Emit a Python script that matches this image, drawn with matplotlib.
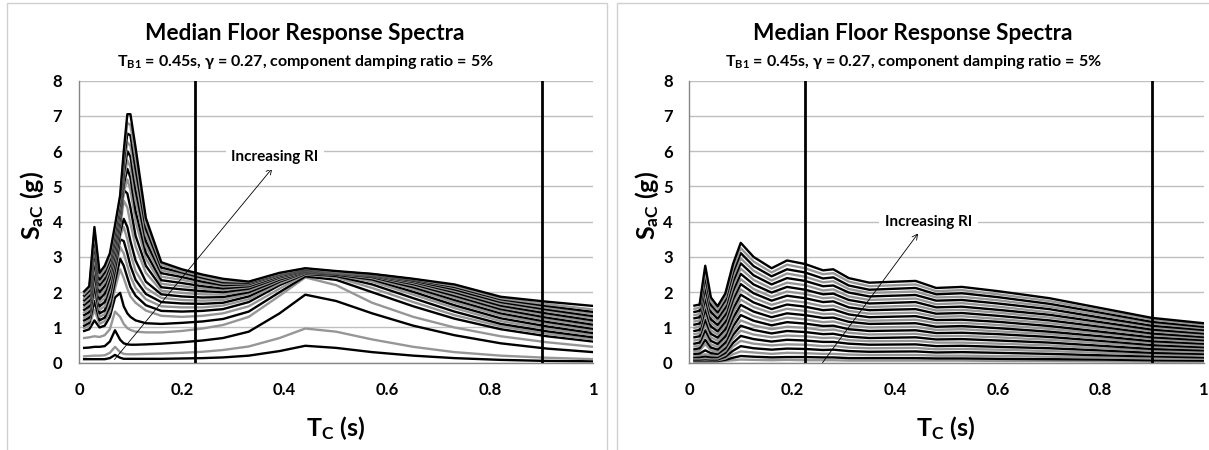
import matplotlib
matplotlib.use("Agg")
import matplotlib.pyplot as plt
from matplotlib.patches import Rectangle

plt.rcParams['font.family'] = ['Lato', 'DejaVu Sans']
plt.rcParams['font.weight'] = 'bold'
plt.rcParams['mathtext.fontset'] = 'custom'
plt.rcParams['mathtext.rm'] = 'Lato:bold'
plt.rcParams['mathtext.bf'] = 'Lato:bold'
plt.rcParams['mathtext.it'] = 'Lato:bold'

# ---- data ----
# component period grid T_C (s)
t_left = [0.01, 0.02, 0.03, 0.04, 0.05, 0.06, 0.07, 0.08, 0.087, 0.094, 0.10, 0.11, 0.13, 0.16,
          0.2, 0.24, 0.28, 0.33, 0.39, 0.44, 0.5, 0.57, 0.65, 0.73, 0.82, 0.91, 1.0]
t_right = [0.01, 0.02, 0.031, 0.042, 0.055, 0.07, 0.085, 0.1, 0.125, 0.16, 0.19, 0.225, 0.26,
           0.28, 0.31, 0.35, 0.44, 0.48, 0.53, 0.6, 0.7, 0.8, 0.9, 1.0]

# left chart, lowest RI first (S_aC in g)
sa_L01 = [0.10, 0.10, 0.10, 0.10, 0.10, 0.13, 0.22, 0.14, 0.11, 0.11, 0.11, 0.11, 0.11, 0.11, 0.12, 0.13, 0.15, 0.2, 0.33, 0.48, 0.42, 0.3, 0.2, 0.13, 0.08, 0.05, 0.04]
sa_L02 = [0.18, 0.19, 0.2, 0.2, 0.21, 0.28, 0.45, 0.3, 0.25, 0.24, 0.24, 0.24, 0.25, 0.26, 0.28, 0.31, 0.36, 0.46, 0.7, 0.97, 0.88, 0.66, 0.45, 0.3, 0.2, 0.14, 0.1]
sa_L03 = [0.42, 0.43, 0.45, 0.45, 0.47, 0.6, 0.92, 0.65, 0.55, 0.52, 0.51, 0.51, 0.52, 0.54, 0.58, 0.63, 0.7, 0.88, 1.4, 1.93, 1.75, 1.4, 1.05, 0.78, 0.55, 0.4, 0.3]
sa_L04 = [0.70, 0.72, 0.75, 0.73, 0.78, 0.95, 1.45, 1.3, 1.1, 0.98, 0.93, 0.88, 0.86, 0.86, 0.9, 0.97, 1.07, 1.3, 1.9, 2.42, 2.2, 1.7, 1.3, 1.0, 0.75, 0.58, 0.45]
sa_L05 = [0.9, 0.95, 1.2, 1.0, 1.05, 1.3, 1.85, 1.98, 1.6, 1.4, 1.3, 1.2, 1.12, 1.1, 1.13, 1.17, 1.24, 1.45, 2.0, 2.45, 2.35, 2.0, 1.6, 1.25, 0.95, 0.75, 0.6]
sa_L06 = [0.98, 1.05, 1.5, 1.1, 1.18, 1.45, 2.1, 2.65, 2.4, 2.1, 1.88, 1.7, 1.48, 1.33, 1.3, 1.33, 1.4, 1.6, 2.1, 2.5, 2.42, 2.12, 1.72, 1.35, 1.03, 0.82, 0.66]
sa_L07 = [1.05, 1.13, 1.75, 1.2, 1.28, 1.6, 2.3, 2.95, 2.75, 2.42, 2.15, 1.9, 1.63, 1.47, 1.45, 1.47, 1.52, 1.72, 2.2, 2.52, 2.46, 2.22, 1.83, 1.45, 1.1, 0.89, 0.72]
sa_L08 = [1.12, 1.2, 2.0, 1.3, 1.38, 1.75, 2.5, 3.28, 3.1, 2.75, 2.45, 2.12, 1.8, 1.6, 1.57, 1.57, 1.62, 1.8, 2.25, 2.54, 2.49, 2.3, 1.93, 1.55, 1.18, 0.96, 0.78]
sa_L09 = [1.2, 1.28, 2.2, 1.4, 1.48, 1.88, 2.65, 3.5, 3.45, 3.1, 2.75, 2.35, 1.95, 1.72, 1.68, 1.67, 1.7, 1.88, 2.3, 2.56, 2.5, 2.36, 2.01, 1.63, 1.26, 1.03, 0.84]
sa_L10 = [1.27, 1.36, 2.4, 1.5, 1.6, 2.02, 2.8, 3.6, 3.85, 3.5, 3.1, 2.6, 2.12, 1.84, 1.78, 1.76, 1.78, 1.95, 2.33, 2.57, 2.52, 2.4, 2.08, 1.71, 1.33, 1.1, 0.9]
sa_L11 = [1.35, 1.44, 2.6, 1.6, 1.72, 2.15, 2.9, 3.7, 4.08, 3.85, 3.45, 2.9, 2.3, 1.94, 1.88, 1.85, 1.86, 2.0, 2.36, 2.58, 2.53, 2.43, 2.14, 1.78, 1.4, 1.16, 0.96]
sa_L12 = [1.42, 1.52, 2.8, 1.7, 1.84, 2.28, 3.0, 3.85, 4.6, 4.4, 3.95, 3.3, 2.55, 2.04, 1.98, 1.94, 1.93, 2.05, 2.39, 2.59, 2.54, 2.45, 2.19, 1.84, 1.46, 1.22, 1.02]
sa_L13 = [1.5, 1.6, 2.95, 1.8, 1.96, 2.4, 3.1, 3.95, 4.9, 4.8, 4.4, 3.6, 2.75, 2.14, 2.08, 2.03, 2.0, 2.1, 2.42, 2.6, 2.55, 2.46, 2.23, 1.9, 1.52, 1.28, 1.08]
sa_L14 = [1.57, 1.68, 3.1, 1.9, 2.08, 2.5, 3.2, 4.05, 4.85, 5.2, 4.9, 4.0, 2.95, 2.24, 2.17, 2.1, 2.06, 2.14, 2.44, 2.61, 2.55, 2.47, 2.26, 1.95, 1.57, 1.34, 1.14]
sa_L15 = [1.64, 1.76, 3.25, 2.0, 2.18, 2.6, 3.3, 4.15, 5.05, 5.5, 5.25, 4.3, 3.12, 2.34, 2.26, 2.17, 2.11, 2.17, 2.46, 2.62, 2.56, 2.48, 2.29, 2.0, 1.62, 1.4, 1.2]
sa_L16 = [1.7, 1.83, 3.35, 2.1, 2.28, 2.68, 3.4, 4.25, 5.2, 5.74, 5.55, 4.6, 3.3, 2.44, 2.35, 2.24, 2.16, 2.2, 2.48, 2.63, 2.56, 2.49, 2.31, 2.04, 1.67, 1.46, 1.26]
sa_L17 = [1.77, 1.9, 3.45, 2.2, 2.38, 2.76, 3.5, 4.35, 5.35, 6.0, 5.85, 4.9, 3.45, 2.54, 2.43, 2.3, 2.2, 2.23, 2.5, 2.64, 2.57, 2.5, 2.33, 2.08, 1.72, 1.51, 1.32]
sa_L18 = [1.83, 1.97, 3.55, 2.28, 2.47, 2.84, 3.6, 4.45, 5.5, 6.25, 6.15, 5.2, 3.62, 2.62, 2.5, 2.36, 2.24, 2.25, 2.51, 2.65, 2.57, 2.5, 2.35, 2.12, 1.76, 1.56, 1.38]
sa_L19 = [1.9, 2.04, 3.65, 2.36, 2.56, 2.92, 3.7, 4.55, 5.7, 6.5, 6.45, 5.5, 3.8, 2.7, 2.56, 2.41, 2.28, 2.27, 2.52, 2.66, 2.58, 2.51, 2.36, 2.15, 1.8, 1.61, 1.44]
sa_L20 = [1.95, 2.1, 3.75, 2.45, 2.65, 3.0, 3.8, 4.65, 5.85, 6.8, 6.75, 5.8, 3.95, 2.78, 2.6, 2.45, 2.32, 2.29, 2.53, 2.67, 2.58, 2.51, 2.37, 2.18, 1.83, 1.66, 1.51]
sa_L21 = [2.02, 2.17, 3.85, 2.55, 2.75, 3.1, 3.9, 4.75, 6.0, 7.05, 7.05, 6.1, 4.1, 2.85, 2.65, 2.5, 2.38, 2.3, 2.55, 2.68, 2.6, 2.52, 2.38, 2.22, 1.87, 1.73, 1.61]

# right chart, lowest RI first
sa_R01 = [0.03, 0.03, 0.03, 0.03, 0.03, 0.05, 0.07, 0.09, 0.08, 0.07, 0.08, 0.07, 0.07, 0.07, 0.06, 0.06, 0.06, 0.06, 0.06, 0.05, 0.05, 0.04, 0.03, 0.03]
sa_R02 = [0.05, 0.05, 0.05, 0.05, 0.05, 0.08, 0.14, 0.19, 0.17, 0.15, 0.16, 0.16, 0.15, 0.15, 0.13, 0.13, 0.13, 0.12, 0.12, 0.11, 0.1, 0.09, 0.07, 0.06]
sa_R03 = [0.07, 0.07, 0.07, 0.07, 0.07, 0.12, 0.24, 0.32, 0.29, 0.25, 0.28, 0.27, 0.25, 0.25, 0.23, 0.22, 0.22, 0.2, 0.2, 0.19, 0.17, 0.15, 0.12, 0.11]
sa_R04 = [0.09, 0.09, 0.1, 0.09, 0.09, 0.17, 0.34, 0.47, 0.41, 0.37, 0.4, 0.39, 0.36, 0.37, 0.33, 0.31, 0.32, 0.29, 0.3, 0.28, 0.25, 0.21, 0.18, 0.15]
sa_R05 = [0.12, 0.12, 0.13, 0.12, 0.12, 0.22, 0.46, 0.62, 0.54, 0.49, 0.52, 0.51, 0.47, 0.48, 0.43, 0.41, 0.42, 0.38, 0.39, 0.37, 0.33, 0.28, 0.23, 0.2]
sa_R06 = [0.16, 0.16, 0.18, 0.16, 0.16, 0.28, 0.56, 0.76, 0.67, 0.6, 0.65, 0.63, 0.59, 0.59, 0.54, 0.51, 0.52, 0.47, 0.48, 0.45, 0.41, 0.35, 0.28, 0.25]
sa_R07 = [0.2, 0.21, 0.24, 0.21, 0.2, 0.34, 0.68, 0.91, 0.8, 0.72, 0.77, 0.75, 0.7, 0.71, 0.64, 0.61, 0.62, 0.57, 0.57, 0.54, 0.49, 0.41, 0.34, 0.3]
sa_R08 = [0.25, 0.26, 0.35, 0.27, 0.25, 0.41, 0.79, 1.05, 0.93, 0.83, 0.9, 0.87, 0.81, 0.82, 0.74, 0.7, 0.72, 0.66, 0.67, 0.63, 0.57, 0.48, 0.39, 0.35]
sa_R09 = [0.31, 0.34, 0.53, 0.35, 0.3, 0.48, 0.9, 1.2, 1.06, 0.95, 1.02, 0.99, 0.92, 0.94, 0.85, 0.8, 0.82, 0.75, 0.76, 0.72, 0.65, 0.55, 0.45, 0.4]
sa_R10 = [0.38, 0.41, 0.65, 0.43, 0.37, 0.57, 1.03, 1.35, 1.19, 1.06, 1.15, 1.11, 1.04, 1.05, 0.95, 0.9, 0.92, 0.84, 0.85, 0.81, 0.73, 0.62, 0.5, 0.44]
sa_R11 = [0.46, 0.49, 0.78, 0.52, 0.45, 0.66, 1.15, 1.5, 1.32, 1.18, 1.28, 1.23, 1.15, 1.17, 1.06, 1.0, 1.02, 0.93, 0.95, 0.89, 0.81, 0.68, 0.56, 0.49]
sa_R12 = [0.54, 0.57, 0.92, 0.62, 0.53, 0.75, 1.27, 1.64, 1.45, 1.29, 1.4, 1.35, 1.27, 1.28, 1.16, 1.1, 1.12, 1.02, 1.04, 0.98, 0.88, 0.75, 0.61, 0.54]
sa_R13 = [0.63, 0.66, 1.07, 0.72, 0.62, 0.85, 1.4, 1.79, 1.58, 1.41, 1.53, 1.47, 1.38, 1.39, 1.26, 1.19, 1.22, 1.12, 1.13, 1.07, 0.96, 0.82, 0.67, 0.59]
sa_R14 = [0.72, 0.75, 1.22, 0.82, 0.71, 0.95, 1.53, 1.93, 1.71, 1.52, 1.65, 1.59, 1.49, 1.51, 1.37, 1.29, 1.32, 1.21, 1.22, 1.16, 1.04, 0.88, 0.72, 0.64]
sa_R15 = [0.81, 0.84, 1.38, 0.92, 0.8, 1.06, 1.66, 2.08, 1.84, 1.64, 1.77, 1.71, 1.6, 1.62, 1.47, 1.39, 1.42, 1.3, 1.32, 1.24, 1.12, 0.95, 0.78, 0.69]
sa_R16 = [0.9, 0.93, 1.53, 1.03, 0.89, 1.16, 1.79, 2.23, 1.97, 1.76, 1.9, 1.83, 1.72, 1.74, 1.57, 1.49, 1.52, 1.39, 1.41, 1.33, 1.2, 1.02, 0.83, 0.73]
sa_R17 = [0.99, 1.02, 1.68, 1.13, 0.98, 1.26, 1.91, 2.37, 2.09, 1.87, 2.02, 1.95, 1.83, 1.85, 1.68, 1.58, 1.62, 1.48, 1.5, 1.42, 1.28, 1.08, 0.89, 0.78]
sa_R18 = [1.08, 1.11, 1.84, 1.23, 1.07, 1.36, 2.04, 2.52, 2.22, 1.99, 2.15, 2.07, 1.94, 1.96, 1.78, 1.68, 1.72, 1.57, 1.59, 1.5, 1.36, 1.15, 0.94, 0.83]
sa_R19 = [1.17, 1.2, 1.99, 1.33, 1.16, 1.46, 2.17, 2.67, 2.35, 2.1, 2.27, 2.2, 2.05, 2.08, 1.88, 1.78, 1.82, 1.66, 1.69, 1.59, 1.43, 1.22, 1.0, 0.88]
sa_R20 = [1.26, 1.29, 2.14, 1.44, 1.25, 1.56, 2.3, 2.82, 2.48, 2.22, 2.4, 2.32, 2.17, 2.19, 1.99, 1.88, 1.92, 1.76, 1.78, 1.68, 1.52, 1.28, 1.05, 0.93]
sa_R21 = [1.35, 1.38, 2.3, 1.54, 1.34, 1.66, 2.43, 2.96, 2.61, 2.33, 2.53, 2.44, 2.28, 2.31, 2.09, 1.98, 2.02, 1.85, 1.87, 1.77, 1.59, 1.35, 1.11, 0.98]
sa_R22 = [1.44, 1.47, 2.45, 1.64, 1.43, 1.77, 2.56, 3.11, 2.74, 2.45, 2.65, 2.56, 2.39, 2.42, 2.19, 2.07, 2.12, 1.94, 1.97, 1.86, 1.67, 1.42, 1.16, 1.02]
sa_R23 = [1.53, 1.56, 2.6, 1.74, 1.51, 1.86, 2.68, 3.25, 2.87, 2.56, 2.78, 2.68, 2.51, 2.54, 2.3, 2.17, 2.22, 2.03, 2.06, 1.94, 1.75, 1.48, 1.22, 1.07]
sa_R24 = [1.62, 1.65, 2.75, 1.85, 1.6, 1.96, 2.8, 3.4, 3.0, 2.68, 2.9, 2.8, 2.62, 2.65, 2.4, 2.27, 2.32, 2.12, 2.15, 2.03, 1.83, 1.55, 1.27, 1.12]

left_curves = [sa_L01, sa_L02, sa_L03, sa_L04, sa_L05, sa_L06, sa_L07, sa_L08, sa_L09, sa_L10, sa_L11,
               sa_L12, sa_L13, sa_L14, sa_L15, sa_L16, sa_L17, sa_L18, sa_L19, sa_L20, sa_L21]
right_curves = [sa_R01, sa_R02, sa_R03, sa_R04, sa_R05, sa_R06, sa_R07, sa_R08, sa_R09, sa_R10, sa_R11, sa_R12,
                sa_R13, sa_R14, sa_R15, sa_R16, sa_R17, sa_R18, sa_R19, sa_R20, sa_R21, sa_R22, sa_R23, sa_R24]

limit_periods = [0.225, 0.9]
x_ticks = [0, 0.2, 0.4, 0.6, 0.8, 1]
x_ticklabels = ['0', '0.2', '0.4', '0.6', '0.8', '1']
y_ticks = [0, 1, 2, 3, 4, 5, 6, 7, 8]

title = 'Median Floor Response Spectra'
subtitle = r'$\mathbf{T_{B1}}$ = 0.45s, γ = 0.27, component damping ratio = 5%'
ylabel = r'$\mathbf{S_{aC}}$ (g)'
xlabel = r'$\mathbf{T_C}$ (s)'
note = 'Increasing RI'
# arrow (tail, tip) and label position for each chart
arrow_left = [(0.069, 0.09), (0.376, 5.52)]
note_left = (0.381, 5.83)
arrow_right = [(0.259, 0.0), (0.445, 3.67)]
note_right = (0.465, 4.0)

GRAY = '#969696'
W, H = 1209, 450

fig = plt.figure(figsize=(W / 100, H / 100), dpi=100)

# light chart borders
for x0, x1 in [(6.5, 607), (617, 1220)]:
    fig.add_artist(Rectangle((x0 / W, -0.05), (x1 - x0) / W, 1.05 - 3 / H,
                             transform=fig.transFigure, fill=False, ec='#d0d0d0', lw=1))


def draw(ax, t, curves, arrow, note_xy):
    ax.set_xlim(0, 1)
    ax.set_ylim(0, 8)
    ax.set_yticks(y_ticks)
    ax.set_xticks(x_ticks)
    ax.set_xticklabels(x_ticklabels)
    ax.grid(axis='y', color='#bfbfbf', lw=1)
    ax.set_axisbelow(True)
    for s in ['top', 'right']:
        ax.spines[s].set_visible(False)
    for s in ['left', 'bottom']:
        ax.spines[s].set_color('#868686')
        ax.spines[s].set_linewidth(1)
    ax.tick_params(length=0, labelsize=12)
    ax.tick_params(axis='y', pad=12)
    ax.tick_params(axis='x', pad=14)
    n = len(curves)
    for i, sa in enumerate(curves):
        col = 'black' if (n - 1 - i) % 2 == 0 else GRAY
        ax.plot(t, sa, color=col, lw=1.7, zorder=2 + i * 0.01, solid_joinstyle='round')
    for tp in limit_periods:
        ax.axvline(tp, color='black', lw=2, zorder=3)
    ax.annotate('', xy=arrow[1], xytext=arrow[0],
                arrowprops=dict(arrowstyle='->', color='black', lw=0.6, shrinkA=0, shrinkB=0),
                zorder=4)
    ax.text(note_xy[0], note_xy[1], note, ha='center', va='center', fontsize=11,
            zorder=5, bbox=dict(fc='white', ec='none', pad=4))


axL = fig.add_axes([79 / W, (H - 362.7) / H, 514.3 / W, 282 / H])
axR = fig.add_axes([689.3 / W, (H - 362.7) / H, 514.3 / W, 282 / H])
draw(axL, t_left, left_curves, arrow_left, note_left)
draw(axR, t_right, right_curves, arrow_right, note_right)

for cx, ylx, xlx in [(305, 31.7, 336), (913, 646.7, 946)]:
    fig.text(cx / W, 1 - 33 / H, title, ha='center', va='center', fontsize=16.3)
    fig.text(cx / W, 1 - 61.7 / H, subtitle, ha='center', va='center', fontsize=11.5)
    fig.text(ylx / W, 1 - 205 / H, ylabel, ha='center', va='center', rotation=90, fontsize=18)
    fig.text(xlx / W, 1 - 428 / H, xlabel, ha='center', va='center', fontsize=18)

fig.savefig('out.png', dpi=100, facecolor='white')
